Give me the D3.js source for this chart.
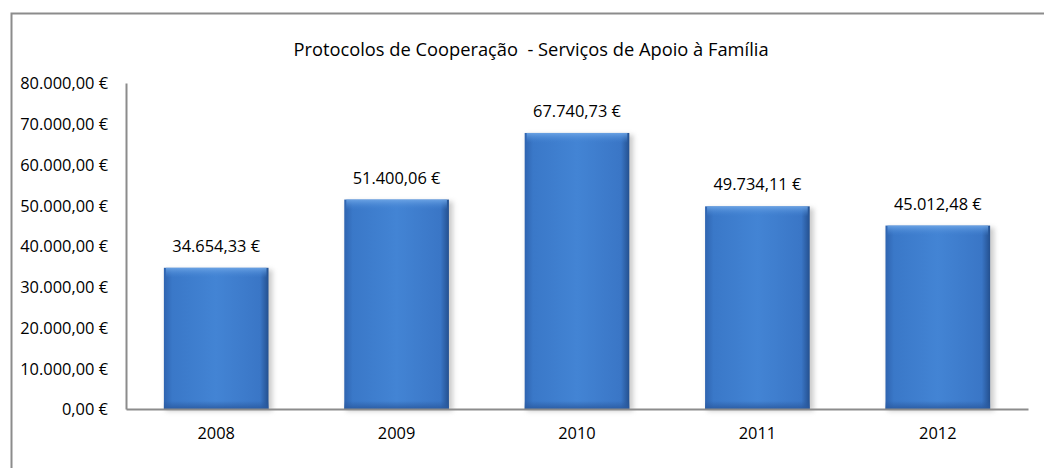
<!DOCTYPE html>
<head>
<meta charset="utf-8">
<script src="https://d3js.org/d3.v7.min.js"></script>
<style>
  body { margin: 0; background: #fff; }
  text { font-family: "Open Sans", sans-serif; fill: #000; }
</style>
</head>
<body>
<script>
// chart data
var years = ["2008", "2009", "2010", "2011", "2012"];
var amounts = [34654.33, 51400.06, 67740.73, 49734.11, 45012.48];
var yTicks = [0, 10000, 20000, 30000, 40000, 50000, 60000, 70000, 80000];
var chartTitle = "Protocolos de Cooperação  - Serviços de Apoio à Família";

var W = 1044, H = 468;
var margin = {top: 83, right: 16, bottom: 59, left: 126};

var euro = d3.formatLocale({decimal: ",", thousands: ".", grouping: [3], currency: ["", " €"]});
var fmt = euro.format("$,.2f");

var svg = d3.select("body").append("svg")
    .attr("width", W)
    .attr("height", H);

var defs = svg.append("defs");
var grad = defs.append("linearGradient").attr("id", "barGrad")
    .attr("x1", 0).attr("x2", 1).attr("y1", 0).attr("y2", 0);
grad.append("stop").attr("offset", "0%").attr("stop-color", "#2f64b0");
grad.append("stop").attr("offset", "8%").attr("stop-color", "#3a78c8");
grad.append("stop").attr("offset", "50%").attr("stop-color", "#4384d4");
grad.append("stop").attr("offset", "92%").attr("stop-color", "#3a76c6");
grad.append("stop").attr("offset", "100%").attr("stop-color", "#24508f");

var vgrad = defs.append("linearGradient").attr("id", "topGrad")
    .attr("x1", 0).attr("x2", 0).attr("y1", 0).attr("y2", 1);
vgrad.append("stop").attr("offset", "0%").attr("stop-color", "#6fa6e6").attr("stop-opacity", 0.9);
vgrad.append("stop").attr("offset", "100%").attr("stop-color", "#4384d4").attr("stop-opacity", 0);

var bgrad = defs.append("linearGradient").attr("id", "botGrad")
    .attr("x1", 0).attr("x2", 0).attr("y1", 0).attr("y2", 1);
bgrad.append("stop").attr("offset", "0%").attr("stop-color", "#2a5aa0").attr("stop-opacity", 0);
bgrad.append("stop").attr("offset", "100%").attr("stop-color", "#2a5aa0").attr("stop-opacity", 0.9);

var blur = defs.append("filter").attr("id", "shadow")
    .attr("x", "-20%").attr("y", "-20%").attr("width", "140%").attr("height", "140%");
blur.append("feGaussianBlur").attr("stdDeviation", 2.5);

// outer frame (cut off at right and bottom)
svg.append("path")
    .attr("d", "M11.5," + (H + 2) + "V13.5H" + (W + 2))
    .attr("fill", "none")
    .attr("stroke", "#8c8c8c")
    .attr("stroke-width", 2);

svg.append("text")
    .attr("x", 531).attr("y", 56)
    .attr("text-anchor", "middle")
    .style("font-size", "18.3px")
    .style("white-space", "pre")
    .text(chartTitle);

var x = d3.scaleBand()
    .domain(years)
    .range([margin.left, W - margin.right])
    .paddingInner(0.42)
    .paddingOuter(0.21);

var y = d3.scaleLinear()
    .domain([0, 80000])
    .range([H - margin.bottom, margin.top]);

var g = svg.append("g");

// shadows
g.selectAll("rect.sh")
  .data(amounts)
  .enter().append("rect")
    .attr("class", "sh")
    .attr("x", function(d, i) { return x(years[i]) + 2; })
    .attr("y", function(d) { return y(d) + 2; })
    .attr("width", x.bandwidth() + 2)
    .attr("height", function(d) { return y(0) - y(d); })
    .attr("fill", "#9a9a9a")
    .attr("opacity", 0.5)
    .attr("filter", "url(#shadow)");

g.selectAll("rect.bar")
  .data(amounts)
  .enter().append("rect")
    .attr("class", "bar")
    .attr("x", function(d, i) { return x(years[i]); })
    .attr("y", function(d) { return y(d); })
    .attr("width", x.bandwidth())
    .attr("height", function(d) { return y(0) - y(d); })
    .attr("fill", "url(#barGrad)");

g.selectAll("rect.hi")
  .data(amounts)
  .enter().append("rect")
    .attr("class", "hi")
    .attr("x", function(d, i) { return x(years[i]) + 2; })
    .attr("y", function(d) { return y(d); })
    .attr("width", x.bandwidth() - 4)
    .attr("height", 10)
    .attr("fill", "url(#topGrad)");

g.selectAll("rect.lo")
  .data(amounts)
  .enter().append("rect")
    .attr("class", "lo")
    .attr("x", function(d, i) { return x(years[i]); })
    .attr("y", y(0) - 8)
    .attr("width", x.bandwidth())
    .attr("height", 8)
    .attr("fill", "url(#botGrad)");

// value labels
g.selectAll("text.val")
  .data(amounts)
  .enter().append("text")
    .attr("class", "val")
    .attr("x", function(d, i) { return x(years[i]) + x.bandwidth() / 2; })
    .attr("y", function(d) { return y(d) - 16; })
    .attr("text-anchor", "middle")
    .style("font-size", "16.4px")
    .text(function(d) { return fmt(d); });

// y axis
var yAxis = svg.append("g")
    .attr("transform", "translate(" + margin.left + ",0)")
    .call(d3.axisLeft(y).tickValues(yTicks).tickSize(0).tickPadding(18)
      .tickFormat(function(d) { return fmt(d); }));
yAxis.selectAll("text").style("font-size", "16.4px").attr("dy", "0.35em");
yAxis.select(".domain").attr("stroke", "#8c8c8c").attr("stroke-width", 2);

// x axis
var xAxis = svg.append("g")
    .attr("transform", "translate(0," + y(0) + ")")
    .call(d3.axisBottom(x).tickSize(0).tickPadding(18));
xAxis.selectAll("text").style("font-size", "16.4px");
xAxis.select(".domain").attr("stroke", "#8c8c8c").attr("stroke-width", 2);
</script>
</body>
